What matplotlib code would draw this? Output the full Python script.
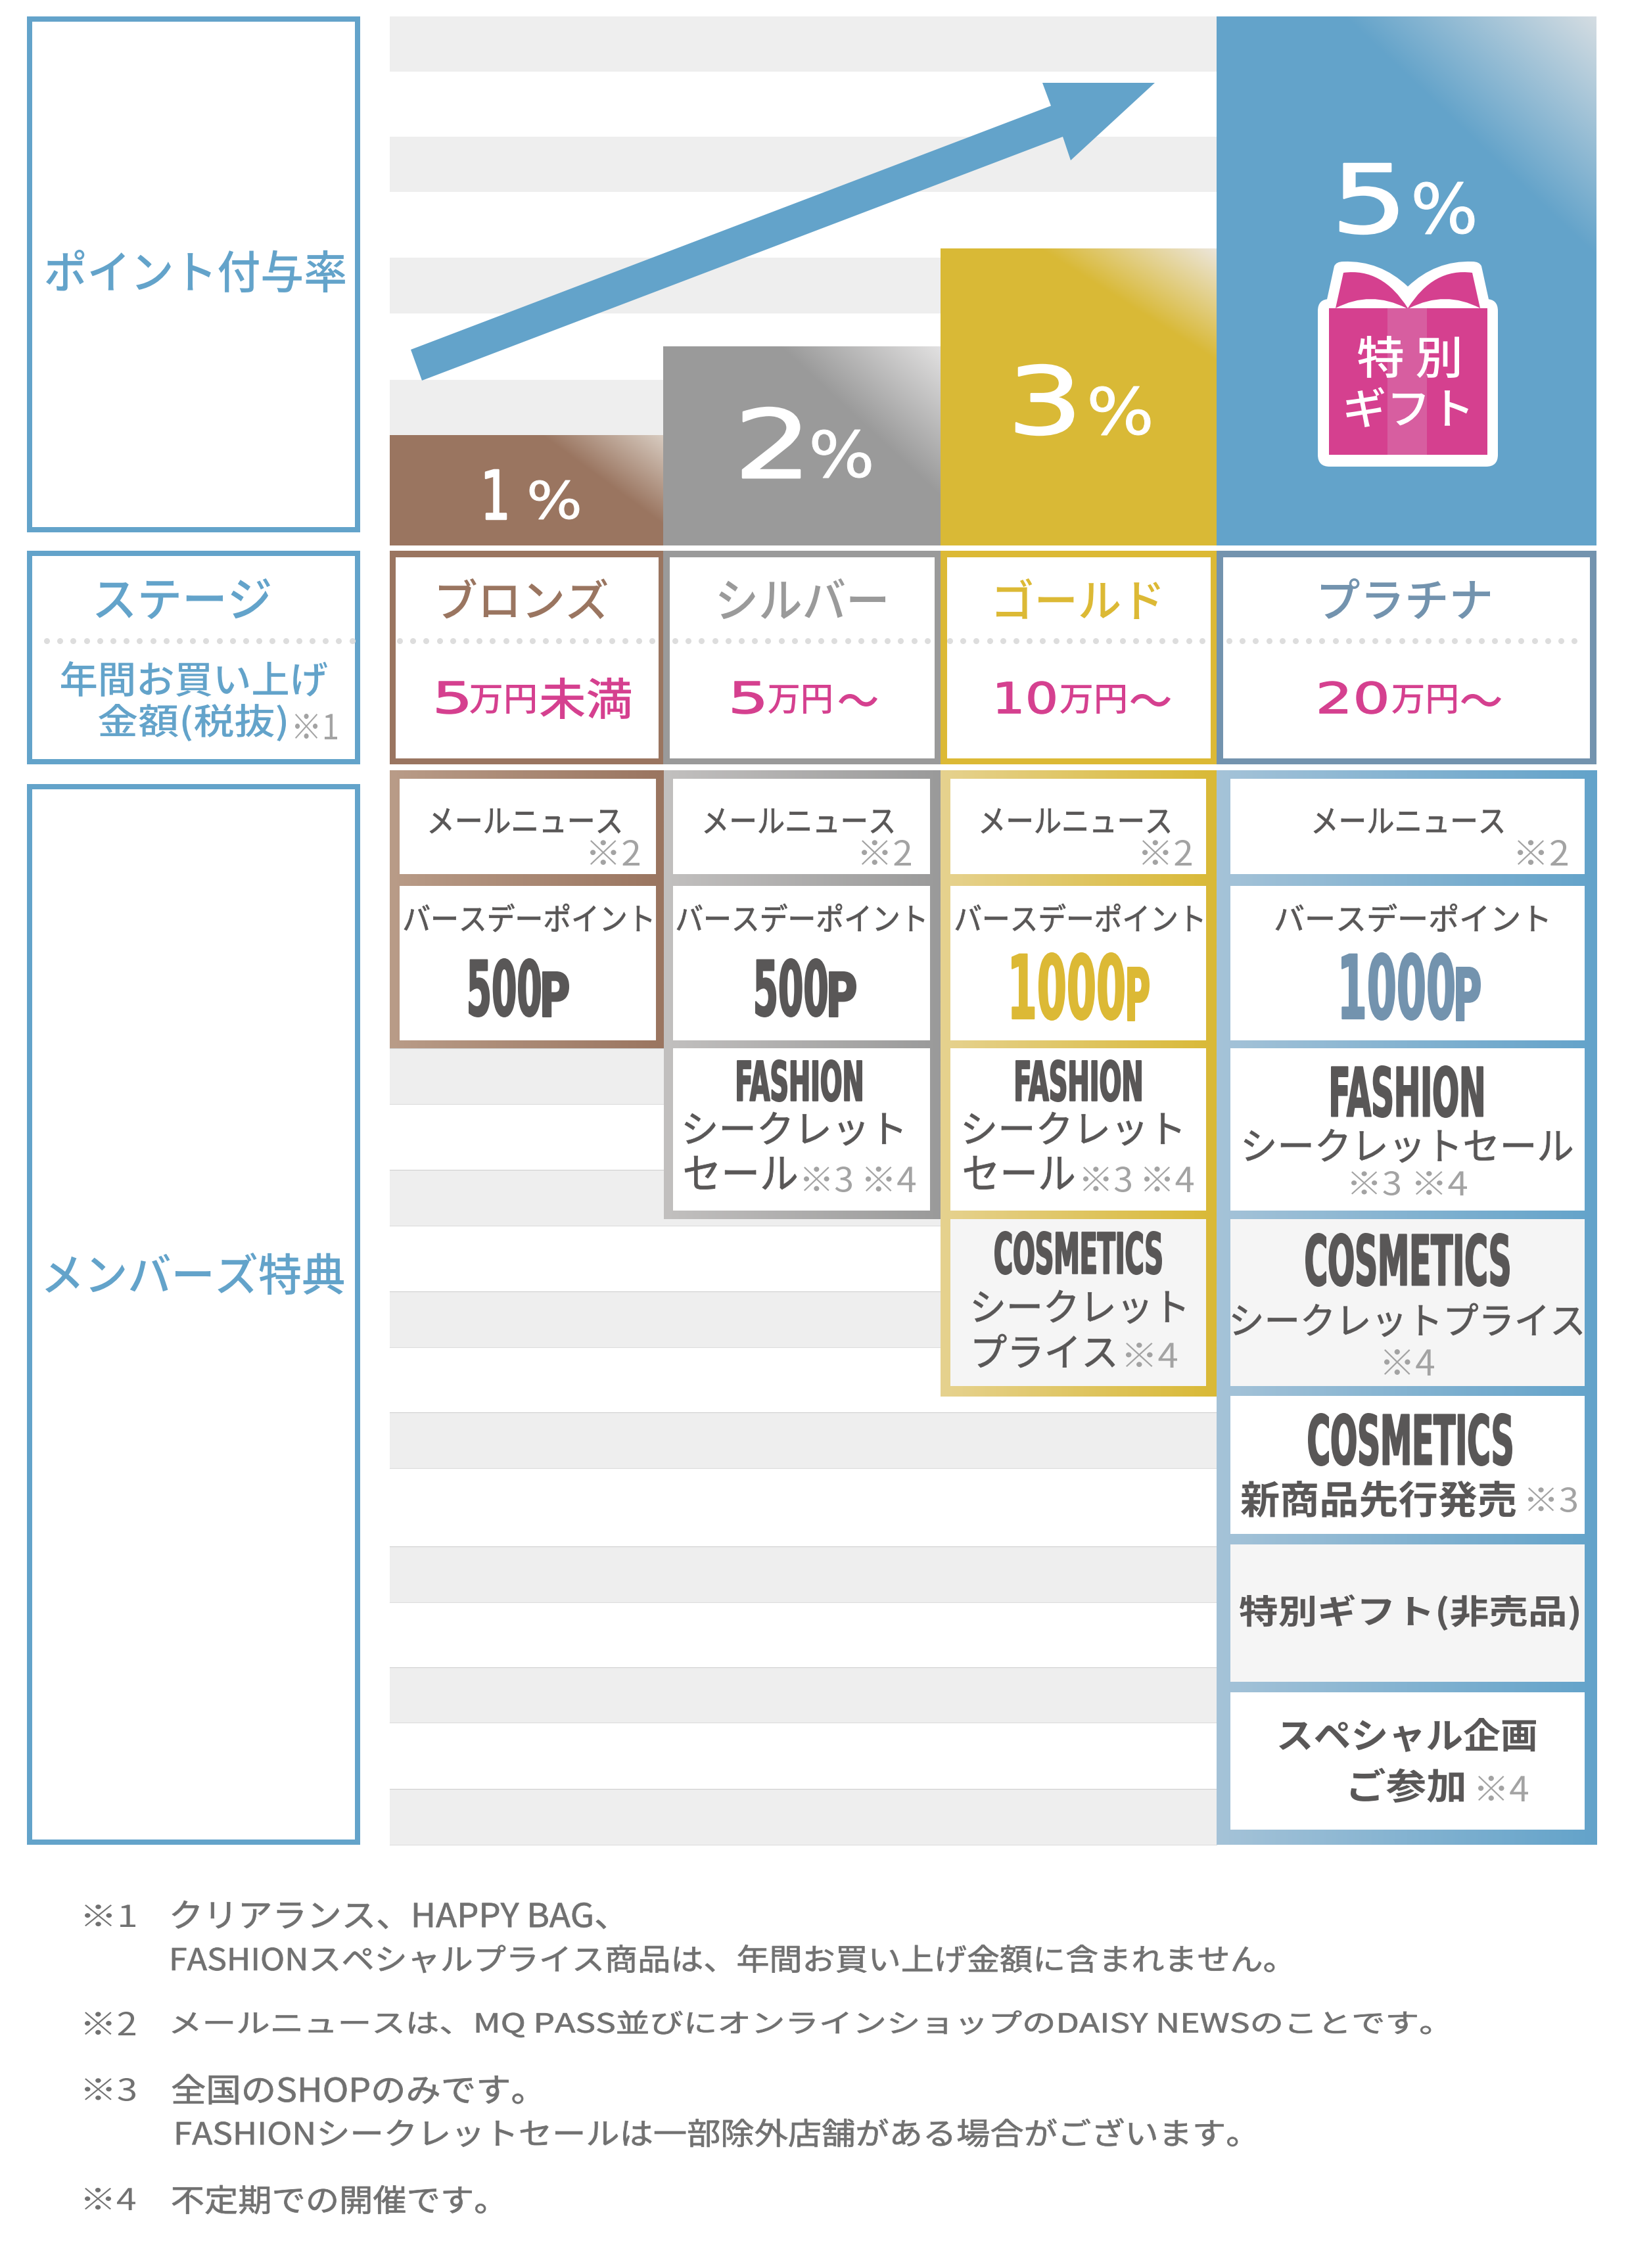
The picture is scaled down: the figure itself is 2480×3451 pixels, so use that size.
import matplotlib as mpl
mpl.use('Agg')
import matplotlib.pyplot as plt
import matplotlib.patches as patches
from matplotlib.path import Path
from matplotlib.patheffects import AbstractPathEffect
from matplotlib.transforms import Affine2D
import numpy as np

plt.rcParams['font.family'] = ['Noto Sans CJK JP', 'DejaVu Sans']

# ---- content
STAGE_NAMES = ["ブロンズ", "シルバー", "ゴールド", "プラチナ"]
RATES = ["1", "2", "3", "5"]
AMOUNTS = ["5", "5", "10", "20"]
AMOUNT_ENDS = ["未満", "〜", "〜", "〜"]
BIRTHDAY_POINTS = ["500", "500", "1000", "1000"]

ROW_TITLES = ["ポイント付与率", "ステージ", "メンバーズ特典"]
SPEND_TITLE = ["年間お買い上げ", "金額(税抜)"]
MAIL_NEWS = "メールニュース"
BIRTHDAY = "バースデーポイント"
SECRET = "シークレット"
SALE = "セール"
PRICE = "プライス"

NOTE_MARKS = ["※1", "※2", "※3", "※4"]
NOTE_LINES = [
    "クリアランス、HAPPY BAG、",
    "FASHIONスペシャルプライス商品は、年間お買い上げ金額に含まれません。",
    "メールニュースは、MQ PASS並びにオンラインショップのDAISY NEWSのことです。",
    "全国のSHOPのみです。",
    "FASHIONシークレットセールは一部除外店舗がある場合がございます。",
    "不定期での開催です。",
]

# ---- colours
BLUE = '#63a3ca'
PINK = '#d5408f'
DARK = '#595757'
MARK_GRAY = '#a3a3a3'
NOTE_GRAY = '#717171'
STRIPE = '#eeeeee'
CELL_GRAY = '#f5f5f5'
BAR_COLORS = ['#9a7560', '#9a9a9a', '#d9b936', '#63a3ca']
BAR_CORNERS = ['#d8ccc1', '#e2e1e1', '#ece6dc', '#d5dde2']
BAR_SPREAD = [185, 245, 270, 385]
BAR_SLOPE = [1.36, 1.07, 1.58, 1.05]
STAGE_COLORS = ['#9a7560', '#9a9a9a', '#dcb935', '#7393ae']
FRAME_LEFT = ['#b99c88', '#c2c0bf', '#e6d28f', '#a5c3d8']
FRAME_RIGHT = ['#9a7560', '#9a9a9a', '#d9b936', '#63a3ca']

# ---- layout, in pixels of the 2480x3451 picture
W, H = 2480, 3451
COL_X = [593, 1009, 1431, 1851, 2429]
BAR_TOPS = [662, 527, 378, 25]
BAR_BOTTOM = 830
STRIPES = [(25, 109), (208, 292), (392, 477), (578, 662), (1595, 1680), (1780, 1865),
           (1965, 2050), (2149, 2234), (2353, 2438), (2537, 2621), (2722, 2807)]
STAGE_INNER = [(602, 1002), (1019, 1422), (1441, 1842), (1861, 2419)]
DOT_RANGES = [(71, 537), (608, 991), (1027, 1414), (1445, 1829), (1870, 2397)]
NAME_X = [(668, 924), (1094, 1347), (1516, 1765), (2010, 2267)]

fig = plt.figure(figsize=(W / 100, H / 100), dpi=100)
ax = fig.add_axes([0, 0, 1, 1])


class FitInk(AbstractPathEffect):
    # squeezes the drawn glyphs into a box given in picture pixels
    def __init__(self, box, stroke=0):
        super().__init__()
        self.box = box
        self.stroke = stroke

    def draw_path(self, renderer, gc, tpath, affine, rgbFace=None):
        ext = tpath.transformed(affine).get_extents()
        x0, y0, x1, y1 = self.box
        fit = (Affine2D().translate(-ext.x0, -ext.y0)
               .scale((x1 - x0) / ext.width, (y1 - y0) / ext.height)
               .translate(x0, H - y1))
        gc0 = renderer.new_gc()
        gc0.copy_properties(gc)
        if self.stroke > 0:
            gc0.set_linewidth(self.stroke * 0.72)
            gc0.set_foreground(rgbFace)
            gc0.set_joinstyle('round')
        renderer.draw_path(gc0, tpath, affine + fit, rgbFace)
        gc0.restore()


def put(s, x0, y0, x1, y1, color, weight='normal', family=None, size=None, stroke=0):
    if size is None:
        size = (y1 - y0) * 0.8
    t = ax.text((x0 + x1) / 2, (y0 + y1) / 2, s, ha='center', va='center', color=color,
                fontsize=size, fontweight=weight, zorder=10, clip_on=False)
    if family is not None:
        t.set_family(family)
    t.set_path_effects([FitInk((x0, y0, x1, y1), stroke)])
    return t


def display(s, x0, y0, x1, y1, color=DARK):
    # heavy condensed headline face, nominal size small enough for its box
    size = min((y1 - y0) * 0.8, (x1 - x0) / len(s))
    return put(s, x0, y0, x1, y1, color, weight='bold', family=['DejaVu Sans'], size=size, stroke=2)


def rect(x0, y0, x1, y1, color, z=1):
    ax.add_patch(patches.Rectangle((x0, y0), x1 - x0, y1 - y0, facecolor=color, edgecolor='none', zorder=z))


def rgb(c):
    return np.array(mpl.colors.to_rgb(c))


def hgrad(x0, y0, x1, y1, c_left, c_right, z=2):
    t = np.linspace(0, 1, 256)[None, :, None]
    img = rgb(c_left) * (1 - t) + rgb(c_right) * t
    ax.imshow(img, extent=(x0, x1, y1, y0), aspect='auto', interpolation='bilinear', zorder=z)


def corner_bar(x0, y0, x1, y1, base, corner, spread, slope, z=3):
    xs = np.arange(x0, x1) + 0.5
    ys = np.arange(y0, y1) + 0.5
    xx, yy = np.meshgrid(xs, ys)
    t = np.clip(1 - ((x1 - xx) + slope * (yy - y0)) / spread, 0, 1)[:, :, None]
    img = rgb(base) * (1 - t) + rgb(corner) * t
    ax.imshow(img, extent=(x0, x1, y1, y0), aspect='auto', interpolation='nearest', zorder=z)


# ---- background stripes
for top, bottom in STRIPES:
    rect(COL_X[0], top, COL_X[3], bottom, STRIPE, z=1)
    if top > 1000:
        ax.plot([COL_X[0], COL_X[3]], [top, top], color='#cfcfcf', lw=0.8, zorder=1.5)
        ax.plot([COL_X[0], COL_X[3]], [bottom, bottom], color='#dcdcdc', lw=0.8, zorder=1.5)

# ---- left column boxes
LEFT_BOXES = [(25, 810), (838, 1163), (1193, 2807)]
for top, bottom in LEFT_BOXES:
    rect(41, top, 548, bottom, BLUE, z=2)
    rect(49, top + 8, 540, bottom - 8, 'white', z=2.5)
put(ROW_TITLES[0], 70, 380, 525, 445, BLUE, weight='medium')
put(ROW_TITLES[1], 146, 880, 411, 942, BLUE, weight='medium')
put(ROW_TITLES[2], 69, 1906, 523, 1970, BLUE, weight='medium')
put(SPEND_TITLE[0], 93, 1006, 498, 1060, BLUE, weight='medium')
put(SPEND_TITLE[1], 150, 1071, 435, 1128, BLUE, weight='medium')
put(NOTE_MARKS[0], 449, 1086, 513, 1125, MARK_GRAY)

# ---- rate bars
for i in range(4):
    corner_bar(COL_X[i], BAR_TOPS[i], COL_X[i + 1], BAR_BOTTOM, BAR_COLORS[i], BAR_CORNERS[i], BAR_SPREAD[i], BAR_SLOPE[i])

RATE_BOXES = [(739, 715, 770, 790), (1130, 620, 1217, 727), (1546, 555, 1633, 662), (2039, 249, 2126, 356)]
PCT_BOXES = [(806, 731, 881, 790), (1236, 654, 1325, 727), (1659, 588, 1750, 662), (2152, 277, 2243, 356)]
for i in range(4):
    put(RATES[i], *RATE_BOXES[i], 'white', family=['DejaVu Sans'], stroke=2.5)
    put("%", *PCT_BOXES[i], 'white', family=['DejaVu Sans'], size=(PCT_BOXES[i][3] - PCT_BOXES[i][1]) * 0.9, stroke=1)

# ---- arrow
ARROW = [(625, 532), (1599, 161), (1586, 126), (1757, 126), (1629, 244), (1617, 208), (642, 579)]
ax.add_patch(patches.Polygon(ARROW, closed=True, facecolor=BLUE, edgecolor='none', zorder=5))

# ---- gift book
CX = 2142


def mirrored(pts):
    return [(2 * CX - x, y) for x, y in pts]


outline = Path(
    [(2018, 460), (2030, 405), (2033, 398), (2044, 398), (2100, 396), (2142, 436),
     (2184, 396), (2240, 398), (2251, 398), (2254, 405), (2266, 460), (2018, 460)],
    [Path.MOVETO, Path.LINETO, Path.CURVE3, Path.CURVE3, Path.CURVE3, Path.CURVE3,
     Path.CURVE3, Path.CURVE3, Path.CURVE3, Path.CURVE3, Path.LINETO, Path.CLOSEPOLY])
ax.add_patch(patches.PathPatch(outline, facecolor='white', edgecolor='none', zorder=6))
ax.add_patch(patches.FancyBboxPatch((2017, 467), 250, 231,
                                    boxstyle='round,pad=12,rounding_size=18',
                                    facecolor='white', edgecolor='none', zorder=6))
left_cover = [(2032, 469), (2044, 415), (2103, 407), (2142, 469), (2032, 469)]
cover_codes = [Path.MOVETO, Path.LINETO, Path.CURVE3, Path.CURVE3, Path.CLOSEPOLY]
left_page = [(2032, 469), (2085, 441), (2140, 469), (2032, 469)]
page_codes = [Path.MOVETO, Path.CURVE3, Path.CURVE3, Path.CLOSEPOLY]
for cover, page in [(left_cover, left_page), (mirrored(left_cover), mirrored(left_page))]:
    ax.add_patch(patches.PathPatch(Path(cover, cover_codes), facecolor=PINK, edgecolor='none', zorder=7))
    ax.add_patch(patches.PathPatch(Path(page, page_codes), facecolor='white', edgecolor='none', zorder=7.5))
rect(2022, 469, 2263, 692, PINK, z=8)
rect(2111, 469, 2171, 692, '#d75ea0', z=8.5)
put("特 別", 2066, 511, 2220, 575, 'white', weight='medium')
put("ギフト", 2048, 589, 2234, 650, 'white', weight='medium')

# ---- stage row
for i in range(4):
    rect(COL_X[i], 838, COL_X[i + 1], 1163, STAGE_COLORS[i], z=2)
    rect(STAGE_INNER[i][0], 848, STAGE_INNER[i][1], 1154, 'white', z=2.5)
    put(STAGE_NAMES[i], NAME_X[i][0], 880, NAME_X[i][1], 942, STAGE_COLORS[i], weight='medium')

for x0, x1 in DOT_RANGES:
    xs = np.arange(x0, x1 + 1, 20.2)
    ax.plot(xs, np.full_like(xs, 975), ls='none', marker='o', ms=6.5, mec='none', color='#dddddd', zorder=4)

AMOUNT_X = [(665, 711), (1115, 1161), (1518, 1605), (2008, 2109)]
UNIT_X = [(715, 814), (1169, 1264), (1613, 1712), (2118, 2216)]
END_BOXES = [(822, 1031, 960, 1094), (1276, 1056, 1335, 1075), (1720, 1056, 1781, 1075), (2223, 1056, 2284, 1075)]
for i in range(4):
    put(AMOUNTS[i], AMOUNT_X[i][0], 1037, AMOUNT_X[i][1], 1086, PINK, family=['DejaVu Sans'], size=40, stroke=1.5)
    put("万円", UNIT_X[i][0], 1042, UNIT_X[i][1], 1086, PINK, weight='medium')
    put(AMOUNT_ENDS[i], *END_BOXES[i], PINK, weight='medium', size=44)

# ---- member benefit frames
FRAME_X = [(593, 1010), (1010, 1431), (1431, 1851), (1851, 2430)]
FRAME_BOTTOM = [1595, 1855, 2125, 2807]
for i in range(4):
    hgrad(FRAME_X[i][0], 1172, FRAME_X[i][1], FRAME_BOTTOM[i], FRAME_LEFT[i], FRAME_RIGHT[i], z=2 + i * 0.01)

CELL_X = [(608, 998), (1024, 1415), (1446, 1835), (1872, 2411)]
ROWS = [(1185, 1330), (1348, 1583), (1595, 1842), (1855, 2109), (2124, 2334), (2350, 2559), (2575, 2784)]
CELL_COUNT = [2, 3, 4, 7]
for i in range(4):
    for r in range(CELL_COUNT[i]):
        fill = CELL_GRAY if r in (3, 5) else 'white'
        rect(CELL_X[i][0], ROWS[r][0], CELL_X[i][1], ROWS[r][1], fill, z=3)

# mail news
MAIL_X = [(654, 944), (1072, 1359), (1493, 1780), (1999, 2287)]
MAIL_MARK_X = [(898, 973), (1311, 1386), (1738, 1813), (2309, 2385)]
for i in range(4):
    put(MAIL_NEWS, MAIL_X[i][0], 1230, MAIL_X[i][1], 1268, DARK, stroke=0.8)
    put(NOTE_MARKS[1], MAIL_MARK_X[i][0], 1278, MAIL_MARK_X[i][1], 1317, MARK_GRAY)

# birthday points
BIRTH_X = [(615, 991), (1030, 1406), (1454, 1829), (1941, 2354)]
POINT_BOXES = [(714, 1459, 822, 1547), (1150, 1459, 1258, 1547), (1540, 1450, 1710, 1552), (2042, 1450, 2212, 1552)]
P_BOXES = [(826, 1479, 865, 1547), (1262, 1479, 1302, 1547), (1716, 1472, 1748, 1553), (2216, 1472, 2252, 1553)]
POINT_COLORS = [DARK, DARK, '#dcb935', '#7393ae']
for i in range(4):
    put(BIRTHDAY, BIRTH_X[i][0], 1375, BIRTH_X[i][1], 1418, DARK, stroke=0.8)
    display(BIRTHDAY_POINTS[i], *POINT_BOXES[i], POINT_COLORS[i])
    display("P", *P_BOXES[i], POINT_COLORS[i])

# fashion
display("FASHION", 1122, 1613, 1311, 1676)
display("FASHION", 1546, 1613, 1736, 1676)
display("FASHION", 2026, 1622, 2256, 1700)
put(SECRET, 1042, 1692, 1372, 1743, DARK, stroke=0.8)
put(SALE, 1042, 1759, 1212, 1810, DARK, stroke=0.8)
put(NOTE_MARKS[2], 1223, 1775, 1296, 1814, MARK_GRAY)
put(NOTE_MARKS[3], 1317, 1775, 1393, 1814, MARK_GRAY)
put(SECRET, 1467, 1692, 1796, 1743, DARK, stroke=0.8)
put(SALE, 1467, 1759, 1634, 1810, DARK, stroke=0.8)
put(NOTE_MARKS[2], 1648, 1775, 1721, 1814, MARK_GRAY)
put(NOTE_MARKS[3], 1741, 1775, 1816, 1814, MARK_GRAY)
put(SECRET + SALE, 1893, 1718, 2392, 1769, DARK, stroke=0.8)
put(NOTE_MARKS[2], 2056, 1782, 2130, 1819, MARK_GRAY)
put(NOTE_MARKS[3], 2154, 1782, 2232, 1819, MARK_GRAY)

# cosmetics
display("COSMETICS", 1514, 1874, 1767, 1939)
display("COSMETICS", 1987, 1877, 2296, 1957)
display("COSMETICS", 1991, 2151, 2300, 2230)
put(SECRET, 1481, 1963, 1802, 2014, DARK, stroke=0.8)
put(PRICE, 1483, 2030, 1696, 2081, DARK, stroke=0.8)
put(NOTE_MARKS[3], 1713, 2043, 1791, 2081, MARK_GRAY)
put(SECRET + PRICE, 1875, 1983, 2407, 2034, DARK, stroke=0.8)
put(NOTE_MARKS[3], 2106, 2053, 2182, 2093, MARK_GRAY)
put("新商品先行発売", 1888, 2253, 2306, 2309, DARK, weight='bold')
put(NOTE_MARKS[2], 2325, 2263, 2399, 2301, MARK_GRAY)
put("特別ギフト(非売品)", 1886, 2426, 2402, 2481, DARK, weight='bold')
put("スペシャル企画", 1946, 2614, 2337, 2666, DARK, weight='bold')
put("ご参加", 2055, 2690, 2227, 2743, DARK, weight='bold')
put(NOTE_MARKS[3], 2249, 2702, 2325, 2741, MARK_GRAY)

# ---- footnotes
MARK_Y = [(2898, 2932), (3061, 3097), (3162, 3197), (3329, 3363)]
for i in range(4):
    put(NOTE_MARKS[i], 129, MARK_Y[i][0], 206, MARK_Y[i][1], NOTE_GRAY)
NOTE_BOXES = [(262, 2892, 922, 2935), (262, 2959, 1939, 3002), (262, 3059, 2177, 3100),
              (262, 3156, 796, 3202), (269, 3223, 1883, 3267), (262, 3325, 739, 3369)]
for s, box in zip(NOTE_LINES, NOTE_BOXES):
    put(s, *box, NOTE_GRAY, size=34, stroke=0.8)

ax.set_xlim(0, W)
ax.set_ylim(H, 0)
ax.axis('off')
fig.savefig('out.png', dpi=100, facecolor='white')
